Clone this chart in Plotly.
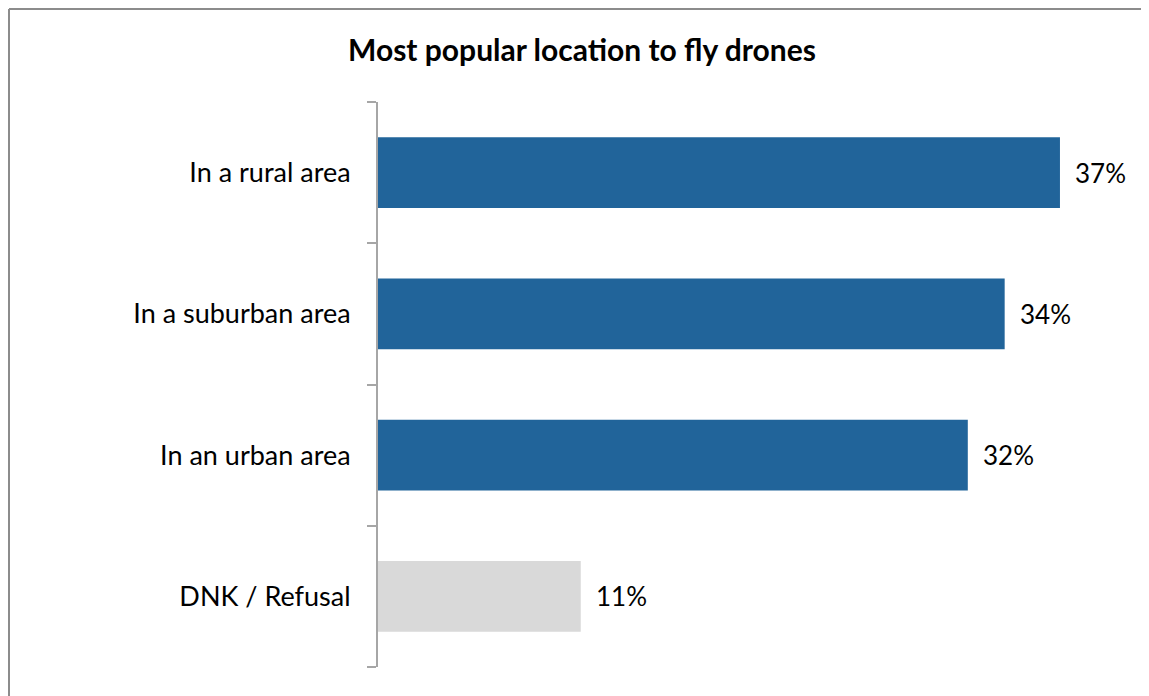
import plotly.graph_objects as go

categories = ["In a rural area", "In a suburban area", "In an urban area", "DNK / Refusal"]
values = [37, 34, 32, 11]
colors = ["#21649A", "#21649A", "#21649A", "#D9D9D9"]
title = "Most popular location to fly drones"

FONT = "Lato, 'Open Sans', sans-serif"

W, H = 1141, 688
L, R, T, B = 370, 19, 94, 29
PW, PH = W - L - R, H - T - B

pos = list(range(len(categories)))
bounds = [p - 0.5 for p in pos] + [pos[-1] + 0.5]

fig = go.Figure(go.Bar(
    y=pos, x=values, orientation="h", width=0.5,
    marker=dict(color=colors, line=dict(width=0)),
    hoverinfo="skip",
))

for p, v in zip(pos, values):
    fig.add_annotation(x=v, y=p, text=f"{v}%", showarrow=False,
                       xanchor="left", xshift=13,
                       font=dict(family=FONT, size=26, color="#000000"))

bx0 = (1 - L) / PW
bx1 = (W + 20 - L) / PW
by1 = (H - B - 1) / PH
by0 = -0.2
border = dict(color="#8C8C8C", width=2)

fig.update_layout(
    width=W, height=H,
    margin=dict(l=L, r=R, t=T, b=B),
    paper_bgcolor="white", plot_bgcolor="white",
    showlegend=False,
    title=dict(text=f"<b>{title}</b>", x=574 / W, xanchor="center", y=1 - 42 / H, yanchor="middle",
               font=dict(family=FONT, size=30, color="#000000")),
    xaxis=dict(range=[0, 40.8], visible=False, fixedrange=True),
    yaxis=dict(range=[bounds[-1] + 0.0005, bounds[0] - 0.0005],
               tickmode="array", tickvals=pos, ticktext=categories, ticks="",
               minor=dict(tickmode="array", tickvals=bounds, ticks="outside", ticklen=9,
                          tickcolor="#A6A6A6", tickwidth=2, showgrid=False),
               showline=True, linecolor="#A6A6A6", linewidth=2,
               ticklabelstandoff=20,
               tickfont=dict(family=FONT, size=27, color="#000000"),
               showgrid=False, zeroline=False, fixedrange=True),
    shapes=[
        dict(type="line", xref="paper", yref="paper", x0=bx0, x1=bx0, y0=by0, y1=by1, line=border, layer="below"),
        dict(type="line", xref="paper", yref="paper", x0=bx0, x1=bx1, y0=by1, y1=by1, line=border, layer="below"),
    ],
)

fig.write_html("out.html")
